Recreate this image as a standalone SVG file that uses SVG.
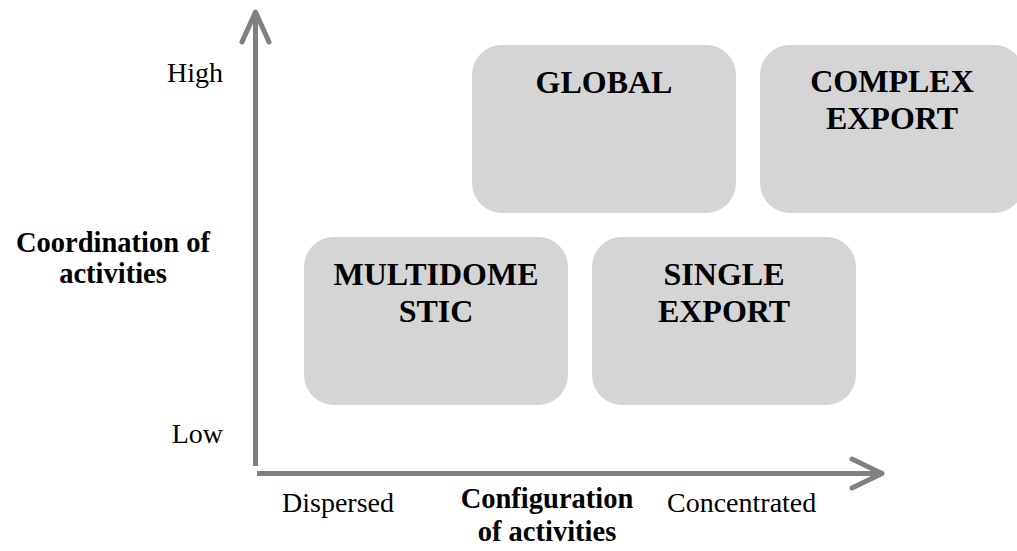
<svg xmlns="http://www.w3.org/2000/svg" width="1017" height="551" viewBox="0 0 1017 551">
  <style>
    .box { fill: #d5d5d5; }
    .bt { font-family: "Liberation Serif", "Times New Roman", serif; font-weight: bold; font-size: 32px; fill: #000; text-anchor: middle; }
    .lab { font-family: "Liberation Serif", "Times New Roman", serif; font-size: 28px; fill: #000; }
    .labb { font-family: "Liberation Serif", "Times New Roman", serif; font-size: 28.5px; font-weight: bold; fill: #000; text-anchor: middle; }
    .axis { stroke: #808080; stroke-width: 5; fill: none; stroke-linecap: round; stroke-linejoin: round; }
  </style>
  <rect width="1017" height="551" fill="#ffffff"/>
  <g id="connectors">
    <line class="axis" x1="255.5" y1="14" x2="255.5" y2="466" style="stroke-linecap:butt"/>
    <polyline class="axis" points="242,42 255.5,12 269,42"/>
    <line class="axis" x1="257" y1="473.5" x2="880" y2="473.5" style="stroke-linecap:butt"/>
    <polyline class="axis" points="852,459 882,473.5 852,488"/>
  </g>
  <g id="global">
    <rect class="box" x="472" y="45" width="264" height="168" rx="30" ry="30"/>
    <text class="bt" x="604" y="93">GLOBAL</text>
  </g>
  <g id="complex-export">
    <rect class="box" x="760" y="45" width="264" height="168" rx="30" ry="30"/>
    <text class="bt" x="892" y="92">COMPLEX</text>
    <text class="bt" x="892" y="129">EXPORT</text>
  </g>
  <g id="multidomestic">
    <rect class="box" x="304" y="237" width="264" height="168" rx="30" ry="30"/>
    <text class="bt" x="436" y="285">MULTIDOME</text>
    <text class="bt" x="436" y="322">STIC</text>
  </g>
  <g id="single-export">
    <rect class="box" x="592" y="237" width="264" height="168" rx="30" ry="30"/>
    <text class="bt" x="724" y="285">SINGLE</text>
    <text class="bt" x="724" y="322">EXPORT</text>
  </g>
  <g id="labels">
    <text class="lab" x="223" y="82" text-anchor="end">High</text>
    <text class="lab" x="223" y="443" text-anchor="end">Low</text>
    <text class="labb" x="113" y="252">Coordination of</text>
    <text class="labb" x="113" y="283">activities</text>
    <text class="lab" x="282" y="512">Dispersed</text>
    <text class="labb" x="547" y="508">Configuration</text>
    <text class="labb" x="547" y="541">of activities</text>
    <text class="lab" x="667" y="512">Concentrated</text>
  </g>
</svg>
